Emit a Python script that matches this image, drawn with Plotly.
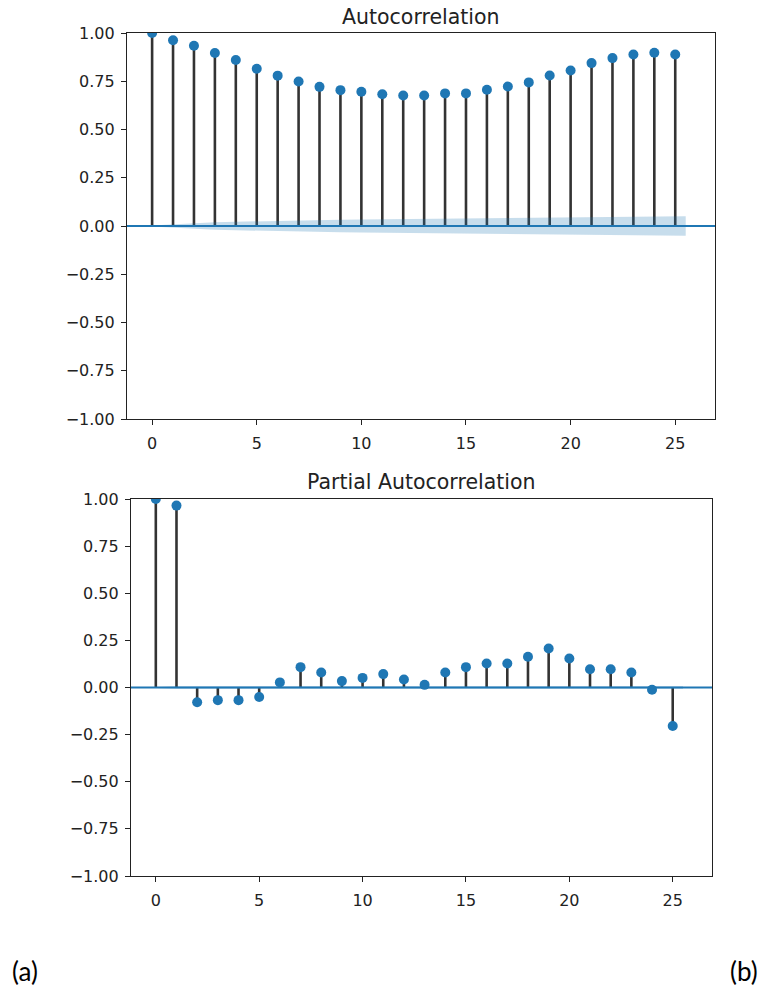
import plotly.graph_objects as go

# ---------------- data ----------------
lags = list(range(26))

acf_values = [1.000, 0.962, 0.934, 0.896, 0.860, 0.815, 0.779, 0.749, 0.721, 0.704,
              0.696, 0.683, 0.676, 0.676, 0.687, 0.687, 0.706, 0.723, 0.744, 0.780,
              0.806, 0.844, 0.870, 0.889, 0.898, 0.889]

# half-width of the shaded confidence band (ACF)
acf_band = [0.000, 0.009, 0.015, 0.019, 0.022, 0.025, 0.027, 0.029, 0.031, 0.033,
            0.034, 0.035, 0.037, 0.038, 0.039, 0.040, 0.041, 0.042, 0.043, 0.044,
            0.045, 0.046, 0.047, 0.048, 0.049, 0.050]

pacf_values = [1.000, 0.965, -0.078, -0.067, -0.067, -0.050, 0.027, 0.108, 0.080, 0.034,
               0.051, 0.071, 0.042, 0.014, 0.080, 0.108, 0.127, 0.127, 0.163, 0.207,
               0.154, 0.097, 0.097, 0.080, -0.012, -0.204]

pacf_band = [0.000] + [0.008] * 25

x_ticks = [0, 5, 10, 15, 20, 25]
y_ticks = [-1.0, -0.75, -0.5, -0.25, 0.0, 0.25, 0.5, 0.75, 1.0]
y_ticklabels = ["\u22121.00", "\u22120.75", "\u22120.50", "\u22120.25", "0.00",
                "0.25", "0.50", "0.75", "1.00"]
titles = ["Autocorrelation", "Partial Autocorrelation"]
panel_labels = ["(a)", "(b)"]

# ---------------- style ----------------
BLUE = "#1f77b4"
STEM = "#333333"
X_RANGE = [-1.2, 26.9]
W, H = 762, 993
FONT = "DejaVu Sans"

fig = go.Figure()


def add_panel(values, band, xa, ya):
    xr, yr = xa.replace("axis", ""), ya.replace("axis", "")
    # stems
    sx, sy = [], []
    for lag, v in zip(lags, values):
        sx += [lag, lag, None]
        sy += [0, v, None]
    fig.add_trace(go.Scatter(x=sx, y=sy, mode="lines", xaxis=xr, yaxis=yr,
                             line=dict(color=STEM, width=2.6), hoverinfo="skip",
                             showlegend=False))
    # confidence band (ends widened by half a lag, as statsmodels does)
    bx = list(lags)
    bx[0] = lags[0] - 0.5
    bx[-1] = lags[-1] + 0.5
    fig.add_trace(go.Scatter(x=bx, y=[-b for b in band], mode="lines", xaxis=xr, yaxis=yr,
                             line=dict(width=0, color="rgba(0,0,0,0)"), hoverinfo="skip",
                             showlegend=False))
    fig.add_trace(go.Scatter(x=bx, y=band, mode="lines", xaxis=xr, yaxis=yr,
                             line=dict(width=0, color="rgba(0,0,0,0)"), fill="tonexty",
                             fillcolor="rgba(31,119,180,0.25)", hoverinfo="skip",
                             showlegend=False))
    # zero line
    fig.add_trace(go.Scatter(x=X_RANGE, y=[0, 0], mode="lines", xaxis=xr, yaxis=yr,
                             line=dict(color=BLUE, width=2), hoverinfo="skip",
                             showlegend=False))
    # markers
    fig.add_trace(go.Scatter(x=lags, y=values, mode="markers", xaxis=xr, yaxis=yr,
                             marker=dict(color=BLUE, size=10), showlegend=False))


add_panel(acf_values, acf_band, "xaxis", "yaxis")
add_panel(pacf_values, pacf_band, "xaxis2", "yaxis2")

axis_common = dict(showgrid=False, zeroline=False, showline=True, mirror=True,
                   automargin=False,
                   linecolor="#222222", linewidth=1.2, ticks="outside", ticklen=5,
                   tickwidth=1.2, tickcolor="#222222",
                   tickfont=dict(family=FONT, size=16, color="#222222"))

fig.update_layout(
    width=W, height=H, autosize=False,
    margin=dict(l=0, r=0, t=0, b=0, pad=0),
    paper_bgcolor="white", plot_bgcolor="white",
    showlegend=False,
    xaxis=dict(domain=[127 / W, 715 / W], range=X_RANGE, anchor="y",
               tickvals=x_ticks, ticklabelstandoff=5, **axis_common),
    yaxis=dict(domain=[1 - 419 / H, 1 - 33 / H], range=[-1, 1], anchor="x",
               tickvals=y_ticks, ticktext=y_ticklabels, ticklabelstandoff=3, **axis_common),
    xaxis2=dict(domain=[131 / W, 712 / W], range=X_RANGE, anchor="y2",
                tickvals=x_ticks, ticklabelstandoff=5, **axis_common),
    yaxis2=dict(domain=[1 - 876 / H, 1 - 499 / H], range=[-1, 1], anchor="x2",
                tickvals=y_ticks, ticktext=y_ticklabels, ticklabelstandoff=3, **axis_common),
)

# panel titles
fig.add_annotation(text=titles[0], xref="paper", yref="paper",
                   x=(127 + 715) / 2 / W, y=1 - 17 / H, xanchor="center", yanchor="middle",
                   showarrow=False, font=dict(family=FONT, size=20.5, color="#222222"))
fig.add_annotation(text=titles[1], xref="paper", yref="paper",
                   x=(131 + 712) / 2 / W, y=1 - 482 / H, xanchor="center", yanchor="middle",
                   showarrow=False, font=dict(family=FONT, size=20.5, color="#222222"))

# (a) / (b) labels
fig.add_annotation(text=panel_labels[0], xref="paper", yref="paper",
                   x=10 / W, y=1 - 971 / H, xanchor="left", yanchor="middle",
                   showarrow=False, font=dict(family="Lato", size=26, color="black"))
fig.add_annotation(text=panel_labels[1], xref="paper", yref="paper",
                   x=760 / W, y=1 - 971 / H, xanchor="right", yanchor="middle",
                   showarrow=False, font=dict(family="Lato", size=26, color="black"))

fig.write_html("out.html", config={"displayModeBar": False},
               post_script="document.body.style.margin='0';document.body.style.overflow='hidden';")
